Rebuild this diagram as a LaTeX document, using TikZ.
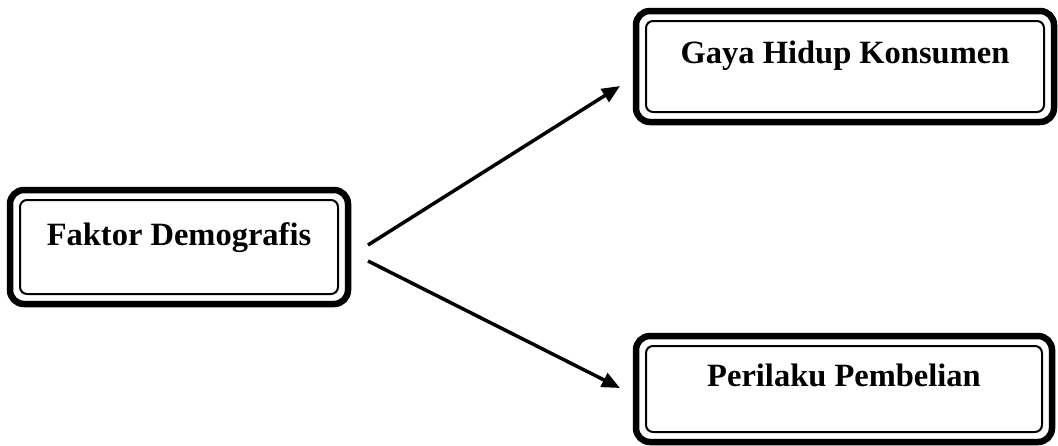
\documentclass[tikz,border=0pt]{standalone}
\usepackage{fontspec}
\setmainfont{Liberation Serif}
\usetikzlibrary{arrows.meta}

\begin{document}
\begin{tikzpicture}[x=1pt, y=-1pt,
        box/.style={rectangle, draw, line width=6.5pt, rounded corners=14pt, outer sep=0pt, inner xsep=0pt, inner ysep=0pt,
            anchor=base, align=center, font=\fontsize{32.5}{38}\selectfont\bfseries},
        innerline/.style={draw, line width=2pt, rounded corners=7pt},
        arrow/.style={-{Triangle[length=18pt, width=15pt]}, line width=3.5pt}
    ]
        \useasboundingbox (0,0) rectangle (1058,445);

        % Boxes
        \node[box, minimum width=338pt, text height=55pt, text depth=59pt] (fd) at (179,245) {Faktor Demografis};
        \node[box, minimum width=418pt, text height=52pt, text depth=59pt] (gh) at (845,63) {Gaya Hidup Konsumen};
        \node[box, minimum width=416pt, text height=50pt, text depth=56pt] (pp) at (844,386) {Perilaku Pembelian};

        % Inner lines
        \foreach \n in {fd, gh, pp}
            \draw[innerline] ([shift={(10,10)}]\n.north west) rectangle ([shift={(-10,-10)}]\n.south east);

        % Arrow ends
        \coordinate (fd-up) at (368,245);
        \coordinate (fd-down) at (368,261);
        \coordinate (gh-in) at (620,86);
        \coordinate (pp-in) at (620,388);

        % Arrows
        \draw[arrow] (fd-up) -- (gh-in);
        \draw[arrow] (fd-down) -- (pp-in);

    \end{tikzpicture}
\end{document}
